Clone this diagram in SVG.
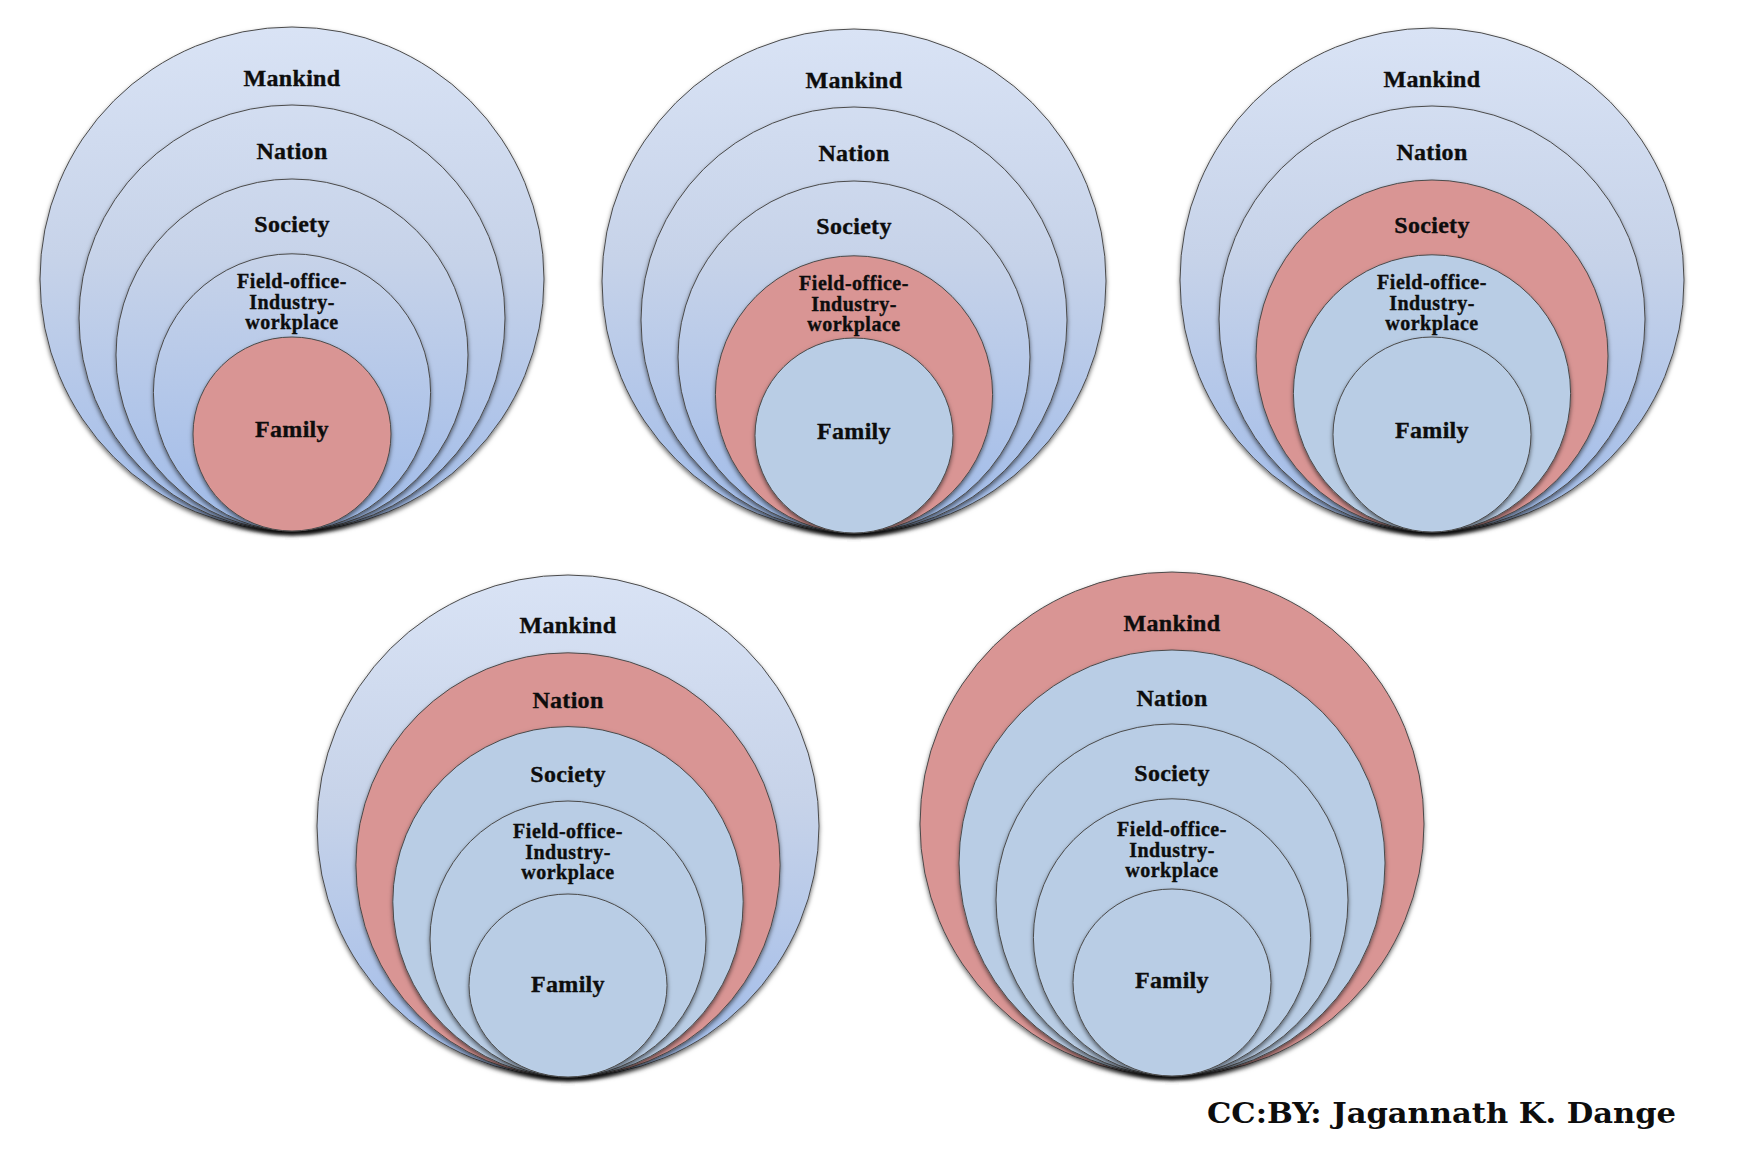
<svg xmlns="http://www.w3.org/2000/svg" width="1740" height="1160" viewBox="0 0 1740 1160">
<defs>
<linearGradient id="gTop" gradientUnits="userSpaceOnUse" x1="0" y1="27" x2="0" y2="533">
<stop offset="0" stop-color="#d9e3f5"/>
<stop offset="0.45" stop-color="#c7d3e9"/>
<stop offset="1" stop-color="#a0bbe9"/>
</linearGradient>
<linearGradient id="gBot" gradientUnits="userSpaceOnUse" x1="0" y1="574" x2="0" y2="1077">
<stop offset="0" stop-color="#d9e3f5"/>
<stop offset="0.45" stop-color="#c7d3e9"/>
<stop offset="1" stop-color="#a0bbe9"/>
</linearGradient>
<filter id="sh" x="-10%" y="-10%" width="120%" height="125%">
<feDropShadow dx="0" dy="2.5" stdDeviation="2" flood-color="#000" flood-opacity="0.55"/>
</filter>
</defs>
<style>
circle,ellipse{stroke:#4a4a4a;stroke-width:1;filter:url(#sh)}
.gt{fill:url(#gTop)}
.gb{fill:url(#gBot)}
.fl{fill:#b9cde5}
.rd{fill:#d99594}
text{font-family:"Liberation Serif","Times New Roman",serif;font-weight:bold;fill:#0d0d0d;stroke:#0d0d0d;stroke-width:0.35px;text-anchor:middle}
.L{font-size:24px;letter-spacing:0.3px}
.S{font-size:20px;letter-spacing:0.5px}
.cr{font-size:28px;text-anchor:start;font-family:"DejaVu Serif","Liberation Serif",serif;stroke:none}
</style>
<rect width="1740" height="1160" fill="#fff"/>

<g id="diagram1">
<g id="d1-mankind"><circle class="gt" cx="292" cy="279" r="252"/><text class="L" x="292" y="85.5">Mankind</text></g>
<g id="d1-nation"><circle class="gt" cx="292" cy="318" r="213"/><text class="L" x="292" y="159">Nation</text></g>
<g id="d1-society"><circle class="gt" cx="292" cy="355" r="176"/><text class="L" x="292" y="232">Society</text></g>
<g id="d1-field"><circle class="gt" cx="292" cy="392.4" r="138.6"/><text class="S" x="292" y="288">Field-office-</text><text class="S" x="292" y="308.5">Industry-</text><text class="S" x="292" y="328.5">workplace</text></g>
<g id="d1-family"><ellipse class="rd" cx="292" cy="434" rx="99" ry="97"/><text class="L" x="292" y="437">Family</text></g>
</g>

<g id="diagram2">
<g id="d2-mankind"><circle class="gt" cx="854" cy="281" r="252"/><text class="L" x="854" y="87.5">Mankind</text></g>
<g id="d2-nation"><circle class="gt" cx="854" cy="320" r="213"/><text class="L" x="854" y="161">Nation</text></g>
<g id="d2-society"><circle class="gt" cx="854" cy="357" r="176"/><text class="L" x="854" y="234">Society</text></g>
<g id="d2-field"><circle class="rd" cx="854" cy="394.4" r="138.6"/><text class="S" x="854" y="290">Field-office-</text><text class="S" x="854" y="310.5">Industry-</text><text class="S" x="854" y="330.5">workplace</text></g>
<g id="d2-family"><ellipse class="fl" cx="854" cy="435.5" rx="99" ry="97.5"/><text class="L" x="854" y="439">Family</text></g>
</g>

<g id="diagram3">
<g id="d3-mankind"><circle class="gt" cx="1432" cy="280" r="252"/><text class="L" x="1432" y="86.5">Mankind</text></g>
<g id="d3-nation"><circle class="gt" cx="1432" cy="319" r="213"/><text class="L" x="1432" y="160">Nation</text></g>
<g id="d3-society"><circle class="rd" cx="1432" cy="356" r="176"/><text class="L" x="1432" y="233">Society</text></g>
<g id="d3-field"><circle class="fl" cx="1432" cy="393.4" r="138.6"/><text class="S" x="1432" y="289">Field-office-</text><text class="S" x="1432" y="309.5">Industry-</text><text class="S" x="1432" y="329.5">workplace</text></g>
<g id="d3-family"><ellipse class="fl" cx="1432" cy="434.5" rx="99" ry="97.5"/><text class="L" x="1432" y="438">Family</text></g>
</g>

<g id="diagram4">
<g id="d4-mankind"><circle class="gb" cx="568" cy="826" r="251"/><text class="L" x="568" y="633">Mankind</text></g>
<g id="d4-nation"><circle class="rd" cx="568" cy="864.9" r="212.1"/><text class="L" x="568" y="708">Nation</text></g>
<g id="d4-society"><circle class="fl" cx="568" cy="901.8" r="175.2"/><text class="L" x="568" y="782">Society</text></g>
<g id="d4-field"><circle class="fl" cx="568" cy="939" r="138"/><text class="S" x="568" y="838">Field-office-</text><text class="S" x="568" y="858.5">Industry-</text><text class="S" x="568" y="879">workplace</text></g>
<g id="d4-family"><ellipse class="fl" cx="568" cy="985.5" rx="99" ry="91.5"/><text class="L" x="568" y="992">Family</text></g>
</g>

<g id="diagram5">
<g id="d5-mankind"><circle class="rd" cx="1172" cy="824" r="252"/><text class="L" x="1172" y="631">Mankind</text></g>
<g id="d5-nation"><circle class="fl" cx="1172" cy="863" r="213"/><text class="L" x="1172" y="706">Nation</text></g>
<g id="d5-society"><circle class="fl" cx="1172" cy="900" r="176"/><text class="L" x="1172" y="781">Society</text></g>
<g id="d5-field"><circle class="fl" cx="1172" cy="937.4" r="138.6"/><text class="S" x="1172" y="836">Field-office-</text><text class="S" x="1172" y="856.5">Industry-</text><text class="S" x="1172" y="877">workplace</text></g>
<g id="d5-family"><ellipse class="fl" cx="1172" cy="982.5" rx="99" ry="93.5"/><text class="L" x="1172" y="988">Family</text></g>
</g>

<text id="credit" class="cr" x="1207" y="1123" textLength="469" lengthAdjust="spacingAndGlyphs">CC:BY: Jagannath K. Dange</text>
</svg>
